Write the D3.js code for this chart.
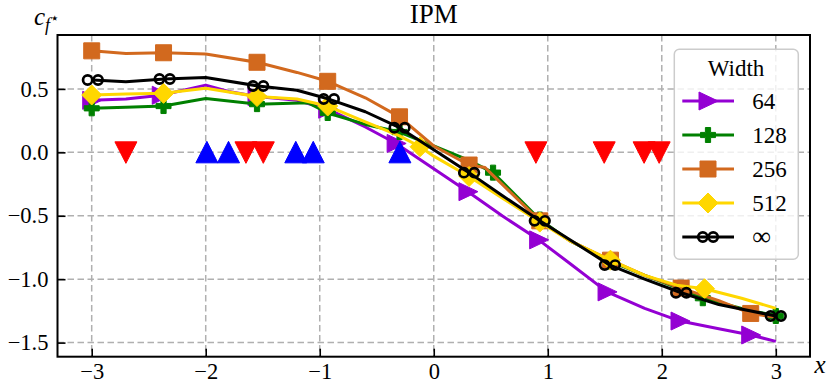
<!DOCTYPE html>
<html><head><meta charset="utf-8">
<script src="https://cdn.jsdelivr.net/npm/d3@7"></script>
<style>body{margin:0;background:#fff}svg{display:block}text{font-family:"Liberation Serif","DejaVu Serif",serif;fill:#000}</style>
</head><body><div id="chart"></div>
<script>
// ---- data ----
const seriesNames = ["64", "128", "256", "512", "\u221E"];
const seriesColors = ["#9400D3", "#008000", "#D2691E", "#FFD700", "#000000"];
const seriesMarkers = ["tri", "plus", "square", "diamond", "inf"];

const x64 = [-3.0, -2.7, -2.39, -2.0, -1.8, -1.55, -1.2, -0.93, -0.6, -0.33, 0.0, 0.30, 0.6, 0.92, 1.2, 1.52, 1.85, 2.16, 2.5, 2.78, 3.0];
const y64 = [0.41, 0.42, 0.45, 0.53, 0.48, 0.44, 0.41, 0.34, 0.20, 0.07, -0.13, -0.31, -0.50, -0.69, -0.88, -1.10, -1.23, -1.33, -1.39, -1.44, -1.49];
const m64 = [-3.0, -2.39, -1.55, -0.93, -0.33, 0.30, 0.92, 1.52, 2.16, 2.78];

const x128 = [-3.0, -2.7, -2.37, -2.0, -1.55, -1.1, -0.93, -0.6, -0.3, 0.0, 0.3, 0.52, 0.93, 1.2, 1.55, 1.85, 2.17, 2.36, 2.7, 3.0];
const y128 = [0.347, 0.355, 0.365, 0.425, 0.38, 0.39, 0.31, 0.22, 0.16, 0.05, -0.06, -0.16, -0.53, -0.70, -0.86, -0.97, -1.08, -1.15, -1.23, -1.29];
const m128 = [-3.0, -2.37, -1.55, -0.93, -0.3, 0.52, 0.93, 1.55, 2.36, 3.0];

const x256 = [-3.0, -2.7, -2.37, -2.0, -1.55, -1.2, -0.93, -0.6, -0.3, 0.0, 0.31, 0.45, 0.93, 1.2, 1.55, 1.85, 2.17, 2.5, 2.78, 3.0];
const y256 = [0.80, 0.78, 0.785, 0.775, 0.71, 0.63, 0.56, 0.43, 0.28, 0.05, -0.10, -0.12, -0.54, -0.70, -0.85, -0.97, -1.07, -1.17, -1.27, -1.30];
const m256 = [-3.0, -2.37, -1.55, -0.93, -0.3, 0.31, 0.93, 1.55, 2.17, 2.78];

const x512 = [-3.0, -2.7, -2.37, -2.0, -1.55, -1.2, -0.93, -0.6, -0.3, -0.12, 0.0, 0.31, 0.6, 0.93, 1.2, 1.55, 1.85, 2.13, 2.375, 2.7, 3.0];
const y512 = [0.452, 0.46, 0.465, 0.505, 0.44, 0.42, 0.365, 0.24, 0.13, 0.044, -0.03, -0.19, -0.36, -0.55, -0.70, -0.85, -0.97, -1.047, -1.075, -1.15, -1.23];
const m512 = [-3.0, -2.37, -1.55, -0.93, -0.12, 0.31, 0.93, 1.55, 2.375];

const xInf = [-2.99, -2.7, -2.36, -2.0, -1.54, -1.2, -0.92, -0.6, -0.30, 0.0, 0.31, 0.6, 0.93, 1.25, 1.545, 1.85, 2.17, 2.5, 3.0];
const yInf = [0.57, 0.557, 0.578, 0.59, 0.523, 0.49, 0.42, 0.32, 0.194, 0.02, -0.16, -0.34, -0.54, -0.72, -0.889, -1.00, -1.107, -1.20, -1.29];
const mInf = [-2.99, -2.36, -1.54, -0.92, -0.30, 0.31, 0.93, 1.545, 2.17, 3.0];

const redX = [-2.70, -1.647, -1.495, 0.896, 1.495, 1.845, 1.977];
const blueX = [-1.99, -1.80, -1.21, -1.057, -0.297];

const xTicks = [-3, -2, -1, 0, 1, 2, 3];
const yTicks = [-1.5, -1.0, -0.5, 0.0, 0.5];
const xDomain = [-3.30, 3.30];
const yDomain = [-1.611, 0.925];

// ---- layout ----
const W = 830, H = 384;
const L = 57.5, R = 810, T = 35, B = 356.7;
const FONT = '"Liberation Serif","DejaVu Serif",serif';
const svg = d3.select("#chart").append("svg").attr("width", W).attr("height", H);
const x = d3.scaleLinear().domain(xDomain).range([L, R]);
const y = d3.scaleLinear().domain(yDomain).range([B, T]);
const minus = s => s.replace("-", "\u2212");

// grid
const grid = svg.append("g").attr("stroke", "#b0b0b0").attr("stroke-width", 1.5).attr("stroke-dasharray", "6.5,3.5");
grid.selectAll(".gx").data(xTicks).join("line").attr("x1", d => x(d)).attr("x2", d => x(d)).attr("y1", T).attr("y2", B);
grid.selectAll(".gy").data(yTicks).join("line").attr("y1", d => y(d)).attr("y2", d => y(d)).attr("x1", L).attr("x2", R);

// axes (inward ticks)
const xAxis = d3.axisBottom(x).tickValues(xTicks).tickSize(-8).tickPadding(6.5).tickFormat(d => minus(d3.format("d")(d)));
const yAxis = d3.axisLeft(y).tickValues(yTicks).tickSize(-8).tickPadding(9).tickFormat(d => minus(d3.format(".1f")(d)));
const gx = svg.append("g").attr("transform", `translate(0,${B})`).call(xAxis);
const gy = svg.append("g").attr("transform", `translate(${L},0)`).call(yAxis);
[gx, gy].forEach(g => {
  g.attr("font-family", null).attr("font-size", null);
  g.select(".domain").remove();
  g.selectAll(".tick line").attr("stroke", "#000").attr("stroke-width", 1.6);
  g.selectAll(".tick text").style("font-size", "22.5px").style("font-family", FONT).attr("fill", "#000");
});

svg.append("defs").append("clipPath").attr("id", "clip")
  .append("rect").attr("x", L).attr("y", T).attr("width", R - L).attr("height", B - T);

const plot = svg.append("g").attr("clip-path", "url(#clip)");

function markerPath(type) {
  switch (type) {
    case "tri": return "M10,0L-9,-9L-9,9Z";
    case "plus": { const a = 7.5, b = 2.6; return `M${-b},${-a}H${b}V${-b}H${a}V${b}H${b}V${a}H${-b}V${b}H${-a}V${-b}H${-b}Z`; }
    case "square": return "M-8,-8H8V8H-8Z";
    case "diamond": return "M0,-10L10,0L0,10L-10,0Z";
    case "down": return "M0,11L-11,-10.5L11,-10.5Z";
    case "up": return "M0,-11L-11,10.5L11,10.5Z";
  }
}
function drawMarker(g, type, color, cx, cy) {
  if (type === "inf") {
    [-5.2, 5.2].forEach(dx => g.append("circle").attr("cx", cx + dx).attr("cy", cy).attr("r", 4.6)
      .attr("fill", "none").attr("stroke", color).attr("stroke-width", 2.7));
  } else {
    g.append("path").attr("d", markerPath(type)).attr("transform", `translate(${cx},${cy})`)
      .attr("fill", color).attr("stroke", color).attr("stroke-width", 1).attr("stroke-linejoin", "miter");
  }
}

const allX = [x64, x128, x256, x512, xInf];
const allY = [y64, y128, y256, y512, yInf];
const allM = [m64, m128, m256, m512, mInf];
const line = d3.line().x(d => x(d[0])).y(d => y(d[1]));

allX.forEach((xs, i) => {
  const pts = xs.map((v, k) => [v, allY[i][k]]);
  const g = plot.append("g");
  g.append("path").datum(pts).attr("d", line).attr("fill", "none")
    .attr("stroke", seriesColors[i]).attr("stroke-width", 3).attr("stroke-linejoin", "round");
  allM[i].forEach(mx => {
    const k = xs.indexOf(mx);
    drawMarker(g, seriesMarkers[i], seriesColors[i], x(mx), y(allY[i][k]));
  });
});

const tri = plot.append("g");
redX.forEach(v => drawMarker(tri, "down", "#FF0000", x(v), y(0)));
blueX.forEach(v => drawMarker(tri, "up", "#0000FF", x(v), y(0)));

// frame
svg.append("rect").attr("x", L).attr("y", T).attr("width", R - L).attr("height", B - T)
  .attr("fill", "none").attr("stroke", "#000").attr("stroke-width", 2);

// title and labels
svg.append("text").attr("x", (L + R) / 2).attr("y", 22.5).attr("text-anchor", "middle").style("font-size", "27px").text("IPM");
svg.append("text").attr("x", 820).attr("y", 373).attr("text-anchor", "middle").style("font-size", "25px").style("font-style", "italic").text("x");
const yl = svg.append("text").attr("x", 34).attr("y", 25).style("font-size", "25px");
yl.append("tspan").style("font-style", "italic").text("c");
yl.append("tspan").attr("dy", 6).style("font-size", "18px").style("font-style", "italic").text("f");
yl.append("tspan").attr("dy", -8).style("font-size", "15px").text("\u22C6");

// legend
const lg = svg.append("g");
lg.append("rect").attr("x", 674.3).attr("y", 49.3).attr("width", 124).attr("height", 210).attr("rx", 5)
  .attr("fill", "#fff").attr("fill-opacity", 0.8).attr("stroke", "#cccccc").attr("stroke-width", 1.5);
lg.append("text").attr("x", 736).attr("y", 76).attr("text-anchor", "middle").style("font-size", "23px").text("Width");
seriesNames.forEach((n, i) => {
  const cy = 101 + i * 34;
  lg.append("line").attr("x1", 682.3).attr("x2", 734).attr("y1", cy).attr("y2", cy)
    .attr("stroke", seriesColors[i]).attr("stroke-width", 3);
  drawMarker(lg, seriesMarkers[i], seriesColors[i], 708, cy);
  lg.append("text").attr("x", 752.3).attr("y", cy + 8).style("font-size", i === 4 ? "26px" : "23px").text(n);
});
</script></body></html>
